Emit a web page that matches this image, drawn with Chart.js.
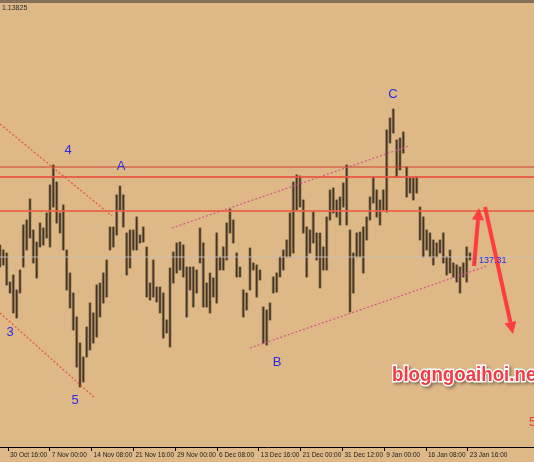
<!DOCTYPE html>
<html>
<head>
<meta charset="utf-8">
<script src="https://cdn.jsdelivr.net/npm/chart.js@4.4.1/dist/chart.umd.min.js"></script>
<style>
  html, body { margin: 0; padding: 0; background: #deb887; }
  #wrap { width: 534px; height: 462px; }
</style>
</head>
<body>
<div id="wrap"><canvas id="chart" width="534" height="462"></canvas></div>
<script>
// H4 bars (one entry per bar slot)
const highs = [
  1.1141, 1.1136, 1.1133, 1.1104, 1.1111, 1.1096, 1.1116, 1.1161, 1.1166, 1.1187,
  1.1156, 1.1144, 1.1163, 1.1158, 1.1173, 1.1201, 1.1221, 1.1204, 1.1173, 1.1181,
  1.1136, 1.1113, 1.1093, 1.1069, 1.1043, 1.1029, 1.1059, 1.1083, 1.1073, 1.1101,
  1.1103, 1.1113, 1.1126, 1.1159, 1.1159, 1.1191, 1.1200, 1.1191, 1.1153, 1.1156,
  1.1156, 1.1169, 1.1151, 1.1159, 1.1139, 1.1103, 1.1126, 1.1099, 1.1099, 1.1093,
  1.1066, 1.1118, 1.1134, 1.1143, 1.1144, 1.1141, 1.1119, 1.1119, 1.1119, 1.1116,
  1.1158, 1.1143, 1.1103, 1.1113, 1.1108, 1.1153, 1.1129, 1.1139, 1.1163, 1.1177,
  1.1166, 1.1133, 1.1119, 1.1096, 1.1093, 1.1138, 1.1123, 1.1121, 1.1116, 1.1079,
  1.1076, 1.1083, 1.1109, 1.1113, 1.1129, 1.1136, 1.1146, 1.1173, 1.1204, 1.1211,
  1.1210, 1.1186, 1.1159, 1.1156, 1.1174, 1.1153, 1.1153, 1.1139, 1.1169, 1.1196,
  1.1198, 1.1186, 1.1189, 1.1203, 1.1221, 1.1156, 1.1133, 1.1153, 1.1154, 1.1159,
  1.1169, 1.1189, 1.1209, 1.1196, 1.1186, 1.1196, 1.1256, 1.1268, 1.1277, 1.1246,
  1.1248, 1.1254, 1.1219, 1.1208, 1.1208, 1.1209, 1.1179, 1.1169, 1.1156, 1.1153,
  1.1146, 1.1143, 1.1146, 1.1153, 1.1129, 1.1136, 1.1123, 1.1121, 1.1119, 1.1123,
  1.1139, 1.1133
];
const lows = [
  1.1119, 1.1121, 1.1101, 1.1093, 1.1073, 1.1068, 1.1093, 1.1119, 1.1136, 1.1148,
  1.1123, 1.1108, 1.1139, 1.1141, 1.1148, 1.1139, 1.1179, 1.1163, 1.1153, 1.1136,
  1.1096, 1.1078, 1.1056, 1.1019, 1.0999, 1.1004, 1.1029, 1.1036, 1.1043, 1.1049,
  1.1069, 1.1083, 1.1089, 1.1136, 1.1139, 1.1151, 1.1176, 1.1159, 1.1111, 1.1118,
  1.1136, 1.1136, 1.1143, 1.1144, 1.1089, 1.1086, 1.1089, 1.1084, 1.1073, 1.1048,
  1.1053, 1.1039, 1.1103, 1.1113, 1.1116, 1.1109, 1.1069, 1.1096, 1.1079, 1.1093,
  1.1123, 1.1079, 1.1079, 1.1073, 1.1089, 1.1083, 1.1116, 1.1116, 1.1126, 1.1153,
  1.1143, 1.1109, 1.1109, 1.1069, 1.1076, 1.1096, 1.1116, 1.1089, 1.1106, 1.1043,
  1.1041, 1.1066, 1.1093, 1.1094, 1.1109, 1.1116, 1.1129, 1.1129, 1.1133, 1.1176,
  1.1179, 1.1153, 1.1109, 1.1133, 1.1143, 1.1126, 1.1098, 1.1116, 1.1116, 1.1166,
  1.1173, 1.1169, 1.1161, 1.1179, 1.1161, 1.1074, 1.1093, 1.1129, 1.1129, 1.1113,
  1.1146, 1.1166, 1.1183, 1.1169, 1.1161, 1.1176, 1.1174, 1.1243, 1.1253, 1.1209,
  1.1216, 1.1233, 1.1189, 1.1193, 1.1186, 1.1193, 1.1146, 1.1129, 1.1136, 1.1129,
  1.1121, 1.1129, 1.1133, 1.1123, 1.1111, 1.1113, 1.1109, 1.1104, 1.1093, 1.1109,
  1.1104, 1.1126
];

const tickBars = [2.4, 14.94, 27.48, 40.02, 52.56, 65.1, 77.64, 90.18, 102.72, 115.26, 127.8, 140.34];
const tickLabels = ['30 Oct 16:00', '7 Nov 00:00', '14 Nov 08:00', '21 Nov 16:00', '29 Nov 00:00', '6 Dec 08:00',
  '13 Dec 16:00', '21 Dec 00:00', '31 Dec 12:00', '9 Jan 00:00', '16 Jan 08:00', '23 Jan 16:00'];

// horizontal levels and bid line
const levels = [1.1219, 1.1209, 1.1175];
const bidLevel = 1.1129;

// trend lines: [bar1, price1, bar2, price2]
const redTrends = [[0, 1.1262, 33.6, 1.1170], [0, 1.1073, 28.5, 1.0988]];
const pinkTrends = [[51.6, 1.1158, 122.7, 1.1240], [75, 1.1038, 146.1, 1.1120]];

// wave counts
const waveNames = ['3', '4', '5', 'A', 'B', 'C'];
const waveBars = [3, 20.4, 22.5, 36.3, 83.1, 117.9];
const wavePrices = [1.1054, 1.1236, 1.0986, 1.1220, 1.1024, 1.1292];

// projected moves: [bar1, price1, bar2, price2]
const arrows = [[142.2, 1.1120, 143.7, 1.1178], [145.5, 1.1179, 153.9, 1.1052]];

const X_MAX = 160.2;
const Y_MIN = 1.0939, Y_MAX = 1.1383;

const bars = highs.map((h, i) => ({ x: i, y: [lows[i], h] }));

function segment(t, color, dash, width) {
    return {
        type: 'line',
        data: [{ x: t[0], y: t[1] }, { x: t[2], y: t[3] }],
        borderColor: color,
        borderWidth: width,
        borderDash: dash,
        pointRadius: 0,
        tension: 0,
        order: 1
    };
}

const datasets = [
    { type: 'bar', data: bars, backgroundColor: 'rgba(95,76,48,0.4)', barThickness: 2.6, grouped: false, order: 3 },
    { type: 'bar', data: bars, backgroundColor: 'rgba(48,38,26,0.85)', barThickness: 1, grouped: false, order: 2 },
    segment([0, bidLevel, X_MAX, bidLevel], 'rgba(200,192,186,0.9)', [], 1),
    segment([0, levels[0], X_MAX, levels[0]], '#d2412c', [], 1),
    segment([0, levels[1], X_MAX, levels[1]], 'rgba(232,84,62,0.85)', [], 2),
    segment([0, levels[2], X_MAX, levels[2]], 'rgba(234,96,70,0.85)', [], 2)
];
redTrends.forEach(t => datasets.push(segment(t, '#e8503c', [2, 2], 1.2)));
pinkTrends.forEach(t => datasets.push(segment(t, '#d4548c', [2, 2], 1.2)));

const overlay = {
    id: 'overlay',
    beforeDraw(chart) {
        const ctx = chart.ctx;
        ctx.save();
        ctx.fillStyle = '#deb887';
        ctx.fillRect(0, 0, chart.width, chart.height);
        ctx.restore();
    },
    afterDatasetsDraw(chart) {
        const ctx = chart.ctx;
        const xs = chart.scales.x, ys = chart.scales.y;

        // arrows
        ctx.save();
        ctx.strokeStyle = '#ff3d3d';
        ctx.fillStyle = '#ff3d3d';
        ctx.lineWidth = 4;
        arrows.forEach(a => {
            const x1 = xs.getPixelForValue(a[0]), y1 = ys.getPixelForValue(a[1]);
            const x2 = xs.getPixelForValue(a[2]), y2 = ys.getPixelForValue(a[3]);
            const ang = Math.atan2(y2 - y1, x2 - x1);
            const head = 12;
            const bx = x2 - Math.cos(ang) * head, by = y2 - Math.sin(ang) * head;
            ctx.beginPath();
            ctx.moveTo(x1, y1);
            ctx.lineTo(bx, by);
            ctx.stroke();
            ctx.beginPath();
            ctx.moveTo(x2, y2);
            ctx.lineTo(bx + Math.sin(ang) * 6, by - Math.cos(ang) * 6);
            ctx.lineTo(bx - Math.sin(ang) * 6, by + Math.cos(ang) * 6);
            ctx.closePath();
            ctx.fill();
        });
        ctx.restore();

        // wave labels
        ctx.save();
        ctx.font = '13px "Liberation Sans", Arial, sans-serif';
        ctx.fillStyle = '#2b2be6';
        ctx.textAlign = 'center';
        ctx.textBaseline = 'middle';
        waveNames.forEach((n, i) => {
            ctx.fillText(n, xs.getPixelForValue(waveBars[i]), ys.getPixelForValue(wavePrices[i]));
        });

        // bid label
        ctx.font = '9px "Liberation Sans", Arial, sans-serif';
        ctx.textAlign = 'left';
        ctx.fillText(': 137.31', xs.getPixelForValue(142.2), ys.getPixelForValue(1.1125));
        ctx.restore();

        // watermark
        ctx.save();
        ctx.translate(392, 381);
        ctx.scale(0.89, 1);
        ctx.font = 'bold 21px "Liberation Sans", Arial, sans-serif';
        ctx.textBaseline = 'alphabetic';
        ctx.shadowColor = 'rgba(0,0,0,0.35)';
        ctx.shadowOffsetX = 2;
        ctx.shadowOffsetY = 2;
        ctx.shadowBlur = 3;
        ctx.lineWidth = 3;
        ctx.strokeStyle = '#ffffff';
        ctx.strokeText('blogngoaihoi.net', 0, 0);
        ctx.shadowColor = 'transparent';
        ctx.fillStyle = '#f23c48';
        ctx.fillText('blogngoaihoi.net', 0, 0);
        ctx.restore();

        ctx.save();
        ctx.font = '12px "Liberation Sans", Arial, sans-serif';
        ctx.fillStyle = '#e8403a';
        ctx.fillText('5', 529, 426);
        ctx.restore();
    },
    afterDraw(chart) {
        const ctx = chart.ctx;
        ctx.save();
        ctx.fillStyle = '#86705a';
        ctx.fillRect(0, 0, chart.width, 3);
        ctx.font = '7px "Liberation Sans", Arial, sans-serif';
        ctx.fillStyle = '#2a2a2a';
        ctx.textBaseline = 'top';
        ctx.fillText('1.13825', 2, 5);
        ctx.restore();
    }
};

new Chart(document.getElementById('chart').getContext('2d'), {
    type: 'bar',
    data: { datasets: datasets },
    options: {
        responsive: false,
        animation: false,
        devicePixelRatio: 1,
        layout: { padding: { top: 3, left: 0, right: 0, bottom: 0 } },
        plugins: { legend: { display: false }, tooltip: { enabled: false } },
        scales: {
            x: {
                type: 'linear',
                min: 0,
                max: X_MAX,
                offset: false,
                afterBuildTicks: s => { s.ticks = tickBars.map(v => ({ value: v })); },
                afterFit: s => { s.height = 15; },
                grid: { display: true, drawOnChartArea: false, offset: false, tickLength: 4, color: '#000', tickColor: '#000' },
                border: { display: true, color: '#000', width: 1 },
                ticks: {
                    autoSkip: false,
                    maxRotation: 0,
                    align: 'start',
                    labelOffset: 2,
                    padding: 0,
                    color: '#222',
                    font: { family: '"Liberation Sans", Arial, sans-serif', size: 6.5 },
                    callback: (v, i) => tickLabels[i]
                }
            },
            y: { display: false, min: Y_MIN, max: Y_MAX }
        }
    },
    plugins: [overlay]
});
</script>
</body>
</html>
